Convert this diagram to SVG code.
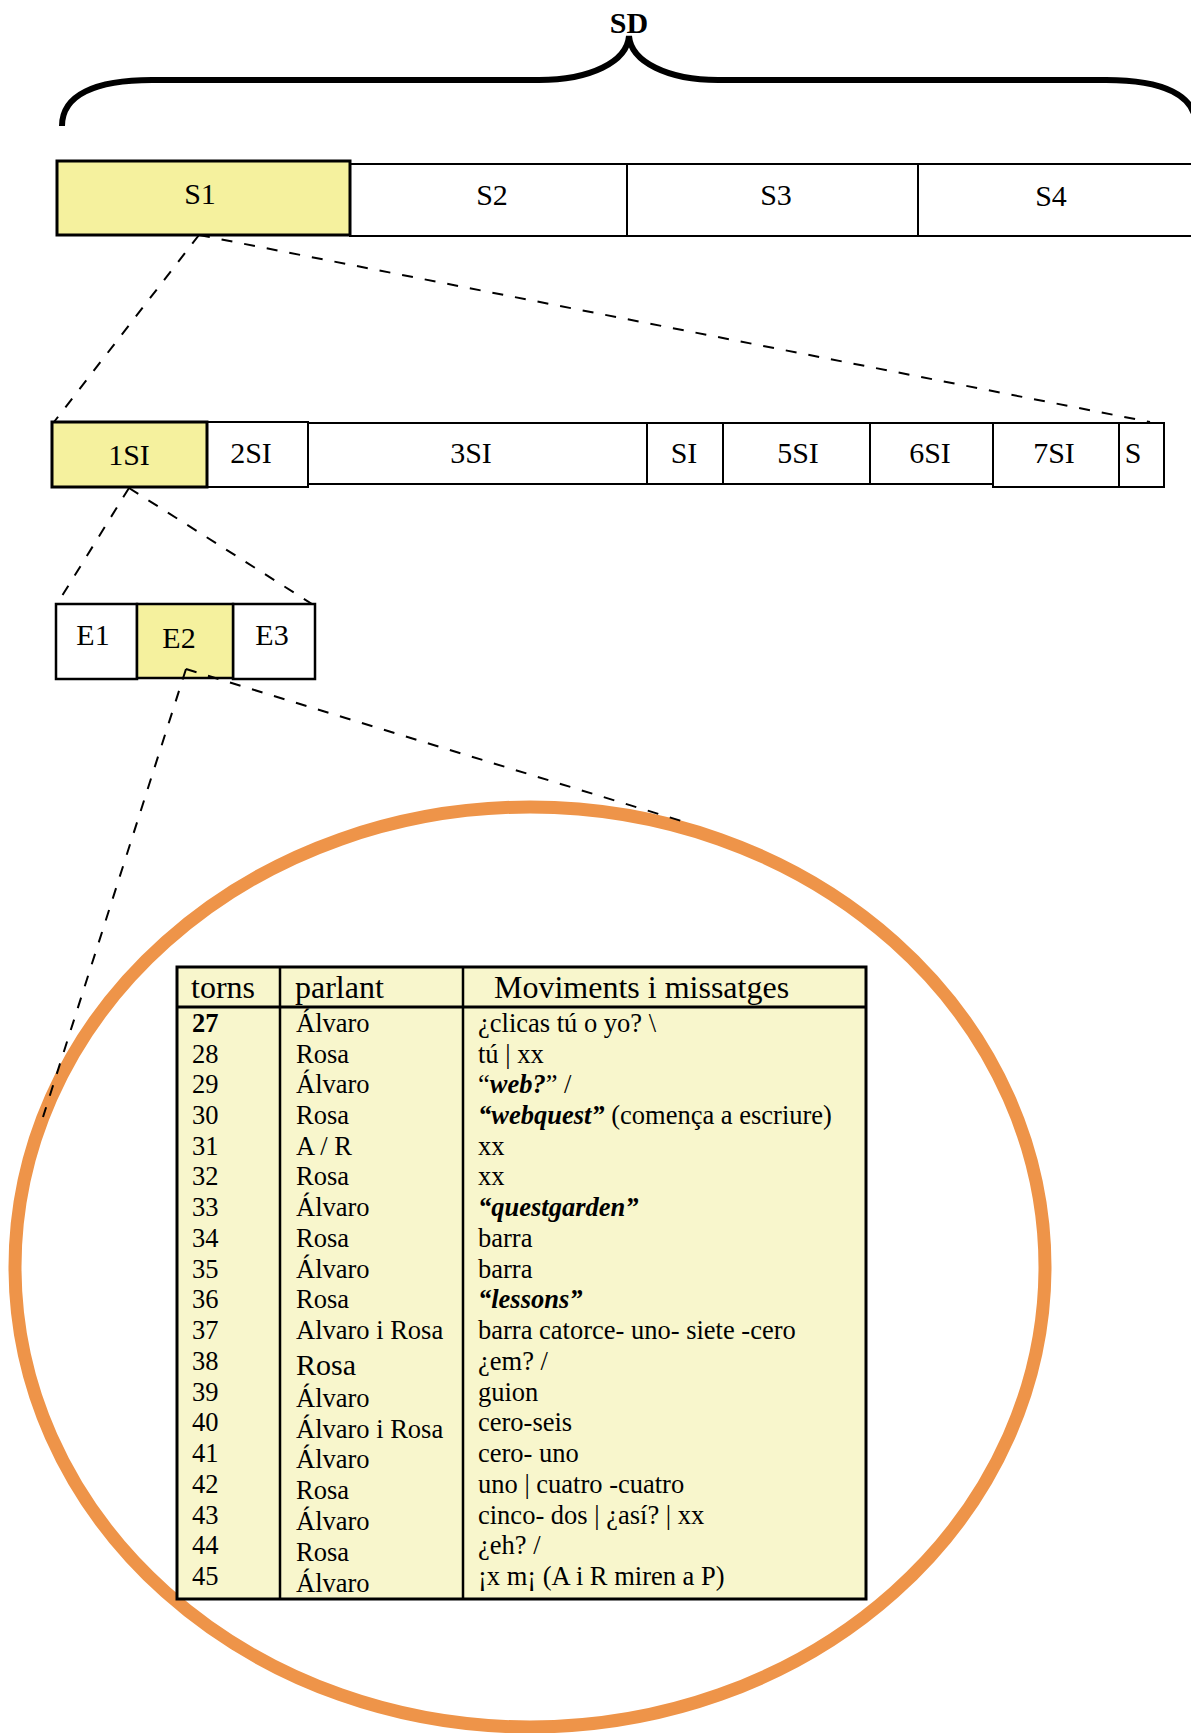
<svg xmlns="http://www.w3.org/2000/svg" width="1191" height="1733" viewBox="0 0 1191 1733">
<style>
text{font-family:"Liberation Serif","Times New Roman",serif;fill:#000}
.lbl{font-size:30px;text-anchor:middle}
.box{stroke:#000;stroke-width:2;fill:#fff}
.hl{fill:#F5F19E;stroke:#000;stroke-width:3}
.dash{stroke:#000;stroke-width:2;fill:none;stroke-dasharray:11 12}
.tb{font-size:26.5px}
.bi{font-weight:bold;font-style:italic}
</style>
<rect width="1191" height="1733" fill="#fff"/>
<g id="brace">
<path d="M62,126 C62,95 95,80 152,80 L539,80 C590,80 627,62 629,36 C631,62 668,80 718,80 L1106,80 C1163,80 1196,95 1196,126" fill="none" stroke="#000" stroke-width="6"/>
<text x="629" y="33" style="font-size:30px;font-weight:bold;text-anchor:middle">SD</text>
</g>
<g id="S2"><rect class="box" x="350" y="164" width="277" height="72"/><text class="lbl" x="492" y="205">S2</text></g>
<g id="S3"><rect class="box" x="627" y="164" width="291" height="72"/><text class="lbl" x="776" y="205">S3</text></g>
<g id="S4"><rect class="box" x="918" y="164" width="290" height="72"/><text class="lbl" x="1051" y="206">S4</text></g>
<g id="S1"><rect class="hl" x="57" y="161" width="293" height="74"/><text class="lbl" x="200" y="204">S1</text></g>
<g id="SI2"><rect class="box" x="207" y="422" width="101" height="65"/><text class="lbl" x="251" y="463">2SI</text></g>
<g id="SI3"><rect class="box" x="308" y="423" width="339" height="61"/><text class="lbl" x="471" y="463">3SI</text></g>
<g id="SI4"><rect class="box" x="647" y="423" width="76" height="61"/><text class="lbl" x="684" y="463">SI</text></g>
<g id="SI5"><rect class="box" x="723" y="423" width="147" height="61"/><text class="lbl" x="798" y="463">5SI</text></g>
<g id="SI6"><rect class="box" x="870" y="423" width="123" height="61"/><text class="lbl" x="930" y="463">6SI</text></g>
<g id="SI7"><rect class="box" x="993" y="423" width="126" height="64"/><text class="lbl" x="1054" y="463">7SI</text></g>
<g id="SI8"><rect class="box" x="1119" y="423" width="45" height="64"/><text class="lbl" x="1133" y="463">S</text></g>
<g id="SI1"><rect class="hl" x="52" y="422" width="155" height="65"/><text class="lbl" x="129" y="465">1SI</text></g>
<g id="E1"><rect class="box" style="stroke-width:2.5" x="56" y="604" width="81" height="75"/><text class="lbl" x="93" y="645">E1</text></g>
<g id="E3"><rect class="box" style="stroke-width:2.5" x="233" y="604" width="82" height="75"/><text class="lbl" x="272" y="645">E3</text></g>
<g id="E2"><rect class="hl" style="stroke-width:2.5" x="137" y="604" width="96" height="74"/><text class="lbl" x="179" y="648">E2</text></g>
<g id="zoom-ellipse"><ellipse cx="530" cy="1267" rx="515" ry="460" fill="none" stroke="#EE9449" stroke-width="13"/></g>
<g id="connectors">
<line class="dash" x1="199" y1="235" x2="54" y2="422"/>
<line class="dash" x1="199" y1="235" x2="1150" y2="422"/>
<line class="dash" x1="129" y1="488" x2="57" y2="604"/>
<line class="dash" x1="129" y1="488" x2="312" y2="604"/>
<line class="dash" x1="186" y1="669" x2="43" y2="1117"/>
<line class="dash" x1="186" y1="669" x2="688" y2="823"/>
</g>
<g id="table">
<rect x="177" y="967" width="689" height="632" fill="#F8F6CC" stroke="#000" stroke-width="3"/>
<line x1="177" y1="1007" x2="866" y2="1007" stroke="#000" stroke-width="3"/>
<line x1="280" y1="967" x2="280" y2="1599" stroke="#000" stroke-width="2.5"/>
<line x1="463" y1="967" x2="463" y2="1599" stroke="#000" stroke-width="2.5"/>
<g style="font-size:32px">
<text x="191" y="998">torns</text>
<text x="295" y="998">parlant</text>
<text x="494" y="998">Moviments i missatges</text>
</g>
<g class="tb">
<text x="192" y="1032" font-weight="bold">27</text><text x="296" y="1032">Álvaro</text><text x="478" y="1032">¿clicas tú o yo? \</text>
<text x="192" y="1063">28</text><text x="296" y="1063">Rosa</text><text x="478" y="1063">tú | xx</text>
<text x="192" y="1093">29</text><text x="296" y="1093">Álvaro</text><text x="478" y="1093">“<tspan class="bi">web?</tspan>” /</text>
<text x="192" y="1124">30</text><text x="296" y="1124">Rosa</text><text x="478" y="1124"><tspan class="bi">“webquest”</tspan> (comença a escriure)</text>
<text x="192" y="1155">31</text><text x="296" y="1155">A / R</text><text x="478" y="1155">xx</text>
<text x="192" y="1185">32</text><text x="296" y="1185">Rosa</text><text x="478" y="1185">xx</text>
<text x="192" y="1216">33</text><text x="296" y="1216">Álvaro</text><text x="478" y="1216" class="bi">“questgarden”</text>
<text x="192" y="1247">34</text><text x="296" y="1247">Rosa</text><text x="478" y="1247">barra</text>
<text x="192" y="1278">35</text><text x="296" y="1278">Álvaro</text><text x="478" y="1278">barra</text>
<text x="192" y="1308">36</text><text x="296" y="1308">Rosa</text><text x="478" y="1308" class="bi">“lessons”</text>
<text x="192" y="1339">37</text><text x="296" y="1339">Alvaro i Rosa</text><text x="478" y="1339">barra catorce- uno- siete -cero</text>
<text x="192" y="1370">38</text><text x="296" y="1375" style="font-size:30px">Rosa</text><text x="478" y="1370">¿em? /</text>
<text x="192" y="1401">39</text><text x="296" y="1407">Álvaro</text><text x="478" y="1401">guion</text>
<text x="192" y="1431">40</text><text x="296" y="1438">Álvaro i Rosa</text><text x="478" y="1431">cero-seis</text>
<text x="192" y="1462">41</text><text x="296" y="1468">Álvaro</text><text x="478" y="1462">cero- uno</text>
<text x="192" y="1493">42</text><text x="296" y="1499">Rosa</text><text x="478" y="1493">uno | cuatro -cuatro</text>
<text x="192" y="1524">43</text><text x="296" y="1530">Álvaro</text><text x="478" y="1524">cinco- dos | ¿así? | xx</text>
<text x="192" y="1554">44</text><text x="296" y="1561">Rosa</text><text x="478" y="1554">¿eh? /</text>
<text x="192" y="1585">45</text><text x="296" y="1592">Álvaro</text><text x="478" y="1585">¡x m¡ (A i R miren a P)</text>
</g>
</g>
</svg>
